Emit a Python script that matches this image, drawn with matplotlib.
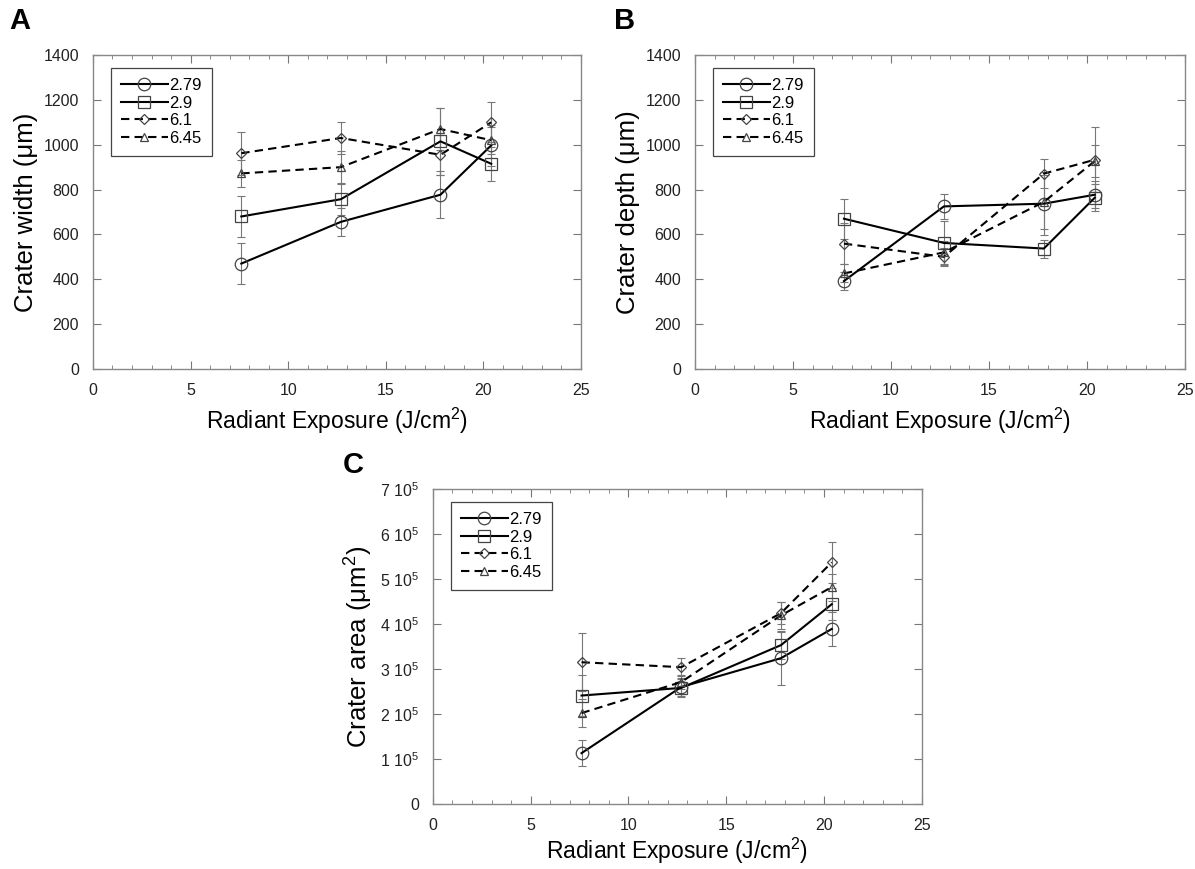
import numpy as np
import matplotlib
matplotlib.use("Agg")
import matplotlib.pyplot as plt

plt.rcParams['font.family'] = ['Liberation Sans', 'DejaVu Sans']
plt.rcParams['mathtext.fontset'] = 'custom'
plt.rcParams['mathtext.rm'] = 'Liberation Sans'
plt.rcParams['mathtext.it'] = 'Liberation Sans:italic'

# radiant exposure values (J/cm^2)
exposure = [7.6, 12.7, 17.8, 20.4]
labels = ["2.79", "2.9", "6.1", "6.45"]

# panel A: crater width (um)
width_mean = {
    "2.79": [470, 656, 777, 997],
    "2.9": [680, 757, 1015, 915],
    "6.1": [962, 1030, 955, 1100],
    "6.45": [872, 900, 1070, 1020],
}
width_err = {
    "2.79": [92, 62, 105, 90],
    "2.9": [90, 70, 150, 75],
    "6.1": [95, 70, 90, 90],
    "6.45": [60, 70, 95, 60],
}

# panel B: crater depth (um)
depth_mean = {
    "2.79": [392, 725, 737, 777],
    "2.9": [670, 562, 537, 764],
    "6.1": [559, 500, 871, 933],
    "6.45": [426, 520, 745, 927],
}
depth_err = {
    "2.79": [40, 55, 140, 60],
    "2.9": [90, 100, 40, 60],
    "6.1": [90, 40, 65, 145],
    "6.45": [40, 50, 120, 70],
}

# panel C: crater area (um^2)
area_mean = {
    "2.79": [1.13e5, 2.60e5, 3.24e5, 3.89e5],
    "2.9": [2.41e5, 2.58e5, 3.53e5, 4.44e5],
    "6.1": [3.15e5, 3.04e5, 4.24e5, 5.37e5],
    "6.45": [2.02e5, 2.71e5, 4.19e5, 4.82e5],
}
area_err = {
    "2.79": [0.29e5, 0.2e5, 0.6e5, 0.37e5],
    "2.9": [0.45e5, 0.2e5, 0.3e5, 0.35e5],
    "6.1": [0.65e5, 0.2e5, 0.25e5, 0.45e5],
    "6.45": [0.32e5, 0.15e5, 0.3e5, 0.3e5],
}

styles = {
    "2.79": dict(marker='o', ls='-', ms=9),
    "2.9": dict(marker='s', ls='-', ms=9),
    "6.1": dict(marker='D', ls=(0, (4, 2.5)), ms=5.5),
    "6.45": dict(marker='^', ls=(0, (4, 2.5)), ms=6),
}


def draw(ax, means, errs, ylim, yticks, ylabel, yticklabels=None, xpad=6):
    for lab in labels:
        st = styles[lab]
        ax.errorbar(exposure, means[lab], yerr=errs[lab],
                    fmt='none', ecolor='#777777', elinewidth=0.8,
                    capsize=3, capthick=0.8, zorder=2)
        ax.plot(exposure, means[lab], color='black', lw=1.5, ls=st['ls'],
                marker=st['marker'], ms=st['ms'], mfc='none', mec='#444444',
                mew=0.9, label=lab, zorder=3)
    ax.set_xlim(0, 25)
    ax.set_ylim(*ylim)
    ax.set_xticks([0, 5, 10, 15, 20, 25])
    ax.set_xticks(np.arange(0, 26, 1), minor=True)
    ax.set_yticks(yticks)
    if yticklabels is not None:
        ax.set_yticklabels(yticklabels)
    ax.tick_params(which='both', direction='in', top=True, right=True,
                   color='#777777', labelsize=11.5, labelcolor='#222222')
    ax.tick_params(axis='x', pad=10)
    ax.tick_params(axis='y', pad=10)
    ax.tick_params(which='major', length=6)
    ax.tick_params(which='minor', length=3)
    for sp in ax.spines.values():
        sp.set_color('#888888')
        sp.set_linewidth(1.0)
    ax.set_xlabel("Radiant Exposure (J/cm$^2$)", fontsize=16.5, labelpad=xpad)
    ax.set_ylabel(ylabel, fontsize=18.5, labelpad=4)
    leg = ax.legend(loc='upper left', bbox_to_anchor=(0.037, 0.958),
                    borderaxespad=0, fontsize=12, handlelength=2.8,
                    handletextpad=0.1, labelspacing=0.15, fancybox=False,
                    edgecolor='#444444', framealpha=1, borderpad=0.6)
    leg.get_frame().set_linewidth(0.9)


fig = plt.figure(figsize=(11.95, 8.69), dpi=100)

axA = fig.add_axes([0.0778, 0.5754, 0.4084, 0.3613])
draw(axA, width_mean, width_err, (0, 1400), range(0, 1401, 200),
     "Crater width (\u03bcm)")

axB = fig.add_axes([0.5816, 0.5754, 0.4100, 0.3613])
draw(axB, depth_mean, depth_err, (0, 1400), range(0, 1401, 200),
     "Crater depth (\u03bcm)")

c_ticks = [i * 1e5 for i in range(8)]
c_labels = ["0"] + ["%d 10$^5$" % i for i in range(1, 8)]
axC = fig.add_axes([0.3623, 0.0748, 0.4090, 0.3625])
draw(axC, area_mean, area_err, (0, 7e5), c_ticks,
     "Crater area (\u03bcm$^2$)", c_labels, xpad=2)

fig.text(0.008, 1 - 7 / 869, "A", fontsize=21, fontweight='bold', va='top')
fig.text(0.514, 1 - 7 / 869, "B", fontsize=21, fontweight='bold', va='top')
fig.text(0.287, 1 - 451 / 869, "C", fontsize=21, fontweight='bold', va='top')

fig.savefig("out.png", dpi=100)
